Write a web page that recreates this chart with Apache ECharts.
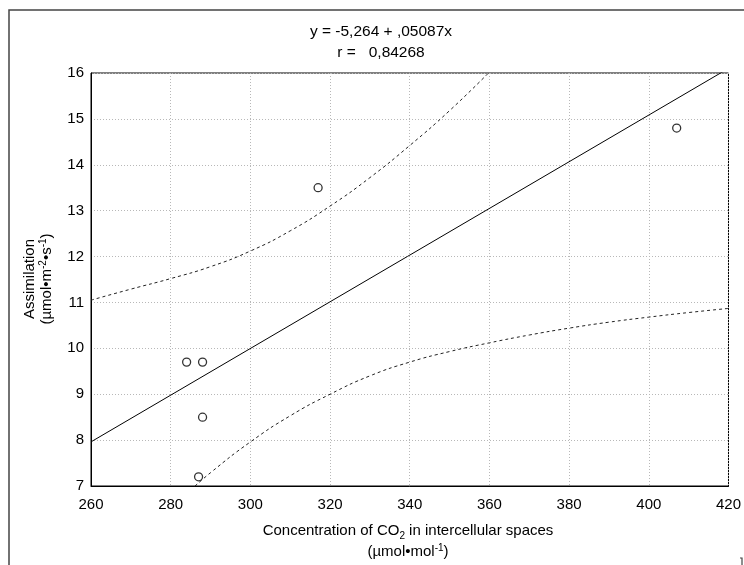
<!DOCTYPE html>
<html><head><meta charset="utf-8">
<script src="https://cdn.jsdelivr.net/npm/echarts@6/dist/echarts.min.js"></script>
<style>html,body{margin:0;padding:0;background:#fff}#c{width:744px;height:565px}</style>
</head><body><div id="c"></div>
<script>
const pointsX = [284, 288, 288, 287, 317, 407];
const pointsY = [9.7, 9.7, 8.5, 7.2, 13.5, 14.8];
const fitX = [260, 420];
const fitY = [7.962, 16.101];
const upperX = [260, 270, 280, 290, 300, 310, 320, 330, 340, 350, 360];
const upperY = [11.05, 11.29, 11.52, 11.78, 12.12, 12.56, 13.1, 13.72, 14.42, 15.18, 16.02];
const lowerX = [285, 290, 300, 310, 320, 330, 340, 350, 360, 370, 380, 390, 400, 410, 420];
const lowerY = [6.91, 7.29, 7.96, 8.53, 9.0, 9.4, 9.7, 9.93, 10.12, 10.29, 10.44, 10.57, 10.68, 10.78, 10.87];
const xTicks = [260, 280, 300, 320, 340, 360, 380, 400, 420];
const yTicks = [7, 8, 9, 10, 11, 12, 13, 14, 15, 16];
const titleLines = ['y = -5,264 + ,05087x', 'r =   0,84268'];

const pair = (xs, ys) => xs.map((x, i) => [x, ys[i]]);
const FONT = 'Liberation Sans, Arial, sans-serif';
const FS = 15;
const chart = echarts.init(document.getElementById('c'), null, {renderer: 'canvas'});
const gridStyle = {show: true, lineStyle: {color: '#b8b8b8', type: [1, 2], width: 1}};
chart.setOption({
  animation: false,
  grid: {left: 91, right: 12, top: 73, bottom: 79, show: true, borderColor: '#000', borderWidth: 1, backgroundColor: 'transparent'},
  xAxis: {
    type: 'value', min: xTicks[0], max: xTicks[xTicks.length - 1], interval: 20,
    axisLine: {show: true, onZero: false, lineStyle: {color: '#000'}},
    axisTick: {show: false},
    axisLabel: {color: '#000', fontFamily: FONT, fontSize: FS, margin: 11},
    splitLine: gridStyle
  },
  yAxis: {
    type: 'value', min: yTicks[0], max: yTicks[yTicks.length - 1], interval: 1,
    axisLine: {show: true, onZero: false, lineStyle: {color: '#000'}},
    axisTick: {show: false},
    axisLabel: {color: '#000', fontFamily: FONT, fontSize: FS, margin: 7},
    splitLine: gridStyle
  },
  series: [
    {type: 'line', data: pair(fitX, fitY), showSymbol: false, lineStyle: {color: '#000', width: 1}, clip: true, z: 3},
    {type: 'line', data: pair(upperX, upperY), smooth: true, showSymbol: false, lineStyle: {color: '#222', width: 1, type: [3, 3]}, clip: true, z: 3},
    {type: 'line', data: pair(lowerX, lowerY), smooth: true, showSymbol: false, lineStyle: {color: '#222', width: 1, type: [3, 3]}, clip: true, z: 3},
    {type: 'scatter', data: pair(pointsX, pointsY), symbol: 'circle', symbolSize: 8,
     itemStyle: {color: '#fff', borderColor: '#000', borderWidth: 1.3}, z: 4}
  ],
  graphic: [
    {type: 'polyline', shape: {points: [[744, 10], [9, 10], [9, 565]]}, style: {stroke: '#444', lineWidth: 1.5, fill: null}},
    {type: 'polyline', shape: {points: [[740, 558], [742, 558], [742, 565]]}, style: {stroke: '#444', lineWidth: 1.2, fill: null}},
    {type: 'text', x: 381, y: 32, style: {text: titleLines[0], font: '15.5px ' + FONT, fill: '#000', align: 'center', verticalAlign: 'middle'}},
    {type: 'text', x: 381, y: 53, style: {text: titleLines[1], font: '15.5px ' + FONT, fill: '#000', align: 'center', verticalAlign: 'middle'}},
    {type: 'text', x: 408, y: 531, style: {
      text: '{a|Concentration of CO}{b|2}{a| in intercellular spaces}',
      align: 'center', verticalAlign: 'middle', fill: '#000',
      rich: {a: {fontFamily: FONT, fontSize: FS, lineHeight: 20, verticalAlign: 'middle'}, b: {fontFamily: FONT, fontSize: 10, lineHeight: 20, verticalAlign: 'bottom'}}
    }},
    {type: 'text', x: 408, y: 552, style: {
      text: '{a|(µmol•mol}{s|-1}{a|)}',
      align: 'center', verticalAlign: 'middle', fill: '#000',
      rich: {a: {fontFamily: FONT, fontSize: FS, lineHeight: 18, verticalAlign: 'middle'}, s: {fontFamily: FONT, fontSize: 10, lineHeight: 18, verticalAlign: 'top'}}
    }},
    {type: 'text', x: 30, y: 279, rotation: Math.PI / 2, style: {
      text: 'Assimilation', font: FS + 'px ' + FONT, fill: '#000', align: 'center', verticalAlign: 'middle'}},
    {type: 'text', x: 47, y: 279, rotation: Math.PI / 2, style: {
      text: '{a|(µmol•m}{s|-2}{a|•s}{s|-1}{a|)}',
      align: 'center', verticalAlign: 'middle', fill: '#000',
      rich: {a: {fontFamily: FONT, fontSize: FS, lineHeight: 18, verticalAlign: 'middle'}, s: {fontFamily: FONT, fontSize: 10, lineHeight: 18, verticalAlign: 'top'}}
    }}
  ]
});
</script></body></html>
